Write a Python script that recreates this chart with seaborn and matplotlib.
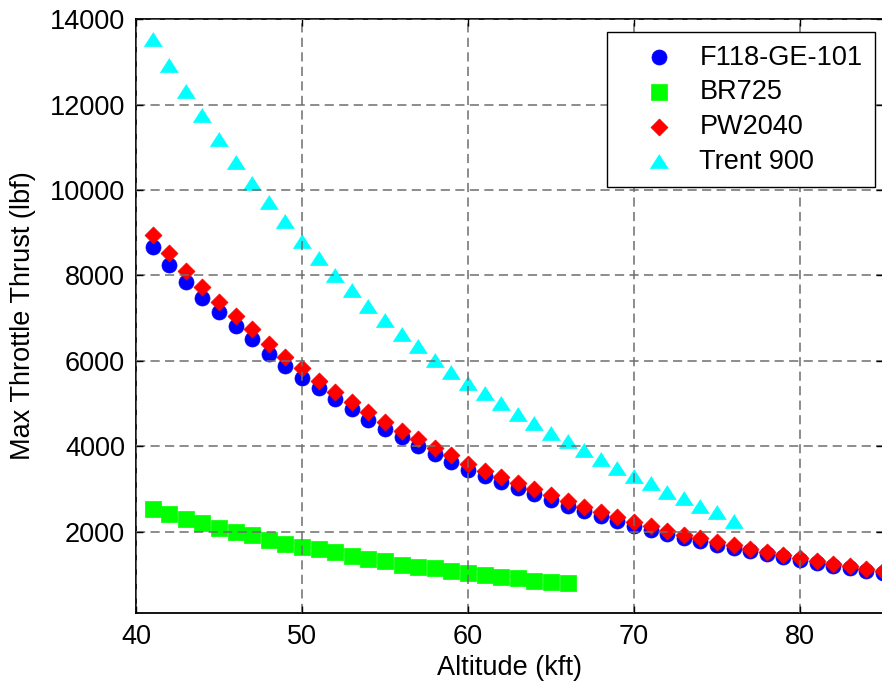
import matplotlib
matplotlib.use("Agg")
import matplotlib.pyplot as plt
import seaborn as sns
import numpy as np

# ---- data ----
alt_f118 = list(range(41, 86))
thrust_f118 = [8656, 8250, 7841, 7466, 7138, 6817, 6506, 6162, 5888, 5607,
               5358, 5108, 4867, 4616, 4398, 4211, 4007, 3820, 3640, 3445,
               3300, 3160, 3025, 2880, 2745, 2610, 2485, 2360, 2245, 2140,
               2040, 1945, 1860, 1775, 1695, 1620, 1540, 1470, 1395, 1330,
               1260, 1200, 1140, 1085, 1030]

alt_br725 = list(range(41, 67))
thrust_br725 = [2527, 2403, 2286, 2208, 2080, 2000, 1918, 1801, 1717, 1630,
                1590, 1513, 1436, 1356, 1302, 1227, 1180, 1145, 1068, 1021,
                991, 946, 911, 850, 829, 792]

alt_pw2040 = list(range(41, 86))
thrust_pw2040 = [8950, 8515, 8106, 7738, 7387, 7052, 6740, 6396, 6099, 5827,
                 5537, 5279, 5031, 4796, 4570, 4366, 4164, 3957, 3790, 3586,
                 3430, 3280, 3140, 2990, 2850, 2710, 2580, 2450, 2330, 2220,
                 2120, 2020, 1930, 1845, 1760, 1680, 1600, 1525, 1450, 1380,
                 1310, 1245, 1185, 1125, 1070]

alt_trent = list(range(41, 77))
thrust_trent = [13544, 12935, 12322, 11747, 11185, 10655, 10171, 9717, 9272, 8810,
                8420, 8017, 7654, 7279, 6958, 6637, 6345, 6028, 5736, 5490,
                5253, 5007, 4761, 4550, 4316, 4113, 3913, 3707, 3500, 3300,
                3134, 2937, 2778, 2602, 2450, 2244]

x_ticks = [40, 50, 60, 70, 80]
y_ticks = [2000, 4000, 6000, 8000, 10000, 12000, 14000]

sns.set_theme(style="white")
plt.rcParams['font.family'] = ['Liberation Sans', 'DejaVu Sans']
plt.rcParams['text.color'] = 'black'
plt.rcParams['axes.labelcolor'] = 'black'
plt.rcParams['xtick.color'] = 'black'
plt.rcParams['ytick.color'] = 'black'
FS = 19.5

fig = plt.figure(figsize=(8.82, 6.83), dpi=100)
ax = fig.add_axes([136/882, 70.3/683, (883-136)/882, (612.7-19.3)/683])

tri = [(0, 0.78), (-1, -0.78), (1, -0.78)]

sns.scatterplot(x=alt_f118, y=thrust_f118, ax=ax, marker='o', s=117,
                color=(0, 0, 1), edgecolor=(0, 0, 1), linewidth=0.5,
                label='F118-GE-101', zorder=1)
sns.scatterplot(x=alt_br725, y=thrust_br725, ax=ax, marker='s', s=117,
                color=(0, 1, 0), edgecolor=(0, 1, 0), linewidth=0.5,
                label='BR725', zorder=1)
sns.scatterplot(x=alt_pw2040, y=thrust_pw2040, ax=ax, marker='D', s=75,
                color=(1, 0, 0), edgecolor=(1, 0, 0), linewidth=0.5,
                label='PW2040', zorder=1)
sns.scatterplot(x=alt_trent, y=thrust_trent, ax=ax, marker=tri, s=169,
                color=(0, 1, 1), edgecolor=(0, 1, 1), linewidth=0.5,
                label='Trent 900', zorder=1)

ax.set_xlim(40, 85)
ax.set_ylim(100, 14000)
ax.set_xticks(x_ticks)
ax.set_yticks(y_ticks)
ax.set_xticklabels([str(v) for v in x_ticks], fontsize=FS, color='black')
ax.set_yticklabels([str(v) for v in y_ticks], fontsize=FS, color='black')
ax.tick_params(direction='in', length=5, width=1, top=True, right=True,
               bottom=True, left=True, pad=8, colors='black')

ax.set_axisbelow(False)
ax.grid(True, color='#6e6e6e', linestyle=(0, (6, 3.5)), linewidth=1.1)

for sp in ax.spines.values():
    sp.set_color('black')
    sp.set_linewidth(1.3)

ax.set_xlabel('Altitude (kft)', fontsize=FS, labelpad=4, color='black')
ax.set_ylabel('Max Throttle Thrust (lbf)', fontsize=FS, labelpad=10, color='black')

leg = ax.legend(loc='upper right', bbox_to_anchor=(0.989, 0.978),
                borderaxespad=0, fontsize=FS, frameon=True, fancybox=False,
                framealpha=1, edgecolor='black', labelspacing=0.32,
                handlelength=2.9, handletextpad=0.05, borderpad=0.45)
leg.get_frame().set_linewidth(1.0)
for t in leg.get_texts():
    t.set_color('black')

fig.savefig('out.png', dpi=100)
